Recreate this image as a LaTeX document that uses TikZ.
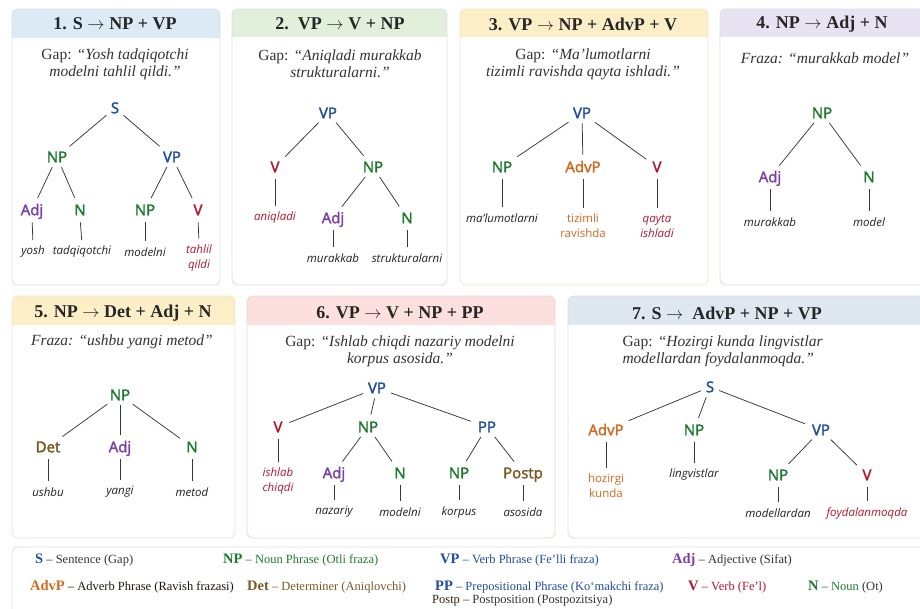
\documentclass[tikz,border=0pt]{standalone}
\usepackage{fontspec}
\setmainfont{Liberation Serif}
\newfontfamily\treefont{Open Sans}
\newfontfamily\catfont[FakeBold=2.2]{Open Sans}
\definecolor{cS}{HTML}{1F4E9C}
\definecolor{cNP}{HTML}{1E7B2E}
\definecolor{cAdj}{HTML}{7B3FA8}
\definecolor{cV}{HTML}{B0182C}
\definecolor{cAdv}{HTML}{D2691E}
\definecolor{cDet}{HTML}{7A5A24}
\definecolor{cWord}{HTML}{222222}
\definecolor{hBlue}{HTML}{DCEAF6}
\definecolor{hGreen}{HTML}{E2EFDA}
\definecolor{hYellow}{HTML}{FCEFC7}
\definecolor{hLav}{HTML}{E7E3F3}
\definecolor{hPink}{HTML}{FBE0DD}
\definecolor{hGrey}{HTML}{DFE8F0}
\definecolor{bGrey}{HTML}{D9DEE4}
\definecolor{bYel}{HTML}{F1E4BE}
\definecolor{bPink}{HTML}{F2D3CF}
\newcommand\lgb{\fontsize{14.5}{15}\selectfont\bfseries}
\newcommand\arr{\ensuremath{\rightarrow}}
\newcommand\drawpanel[7]{%
  \begin{scope}
    \clip[rounded corners=6pt] (#1,#2) rectangle (#3,#4);
    \fill[#6] (#1,#2) rectangle (#3,#5);
  \end{scope}
  \draw[#7, line width=0.8pt, rounded corners=6pt] (#1,#2) rectangle (#3,#4);}
\begin{document}
\begin{tikzpicture}[x=1pt,y=-1pt,
  ttl/.style={font=\fontsize{18}{20}\selectfont\bfseries, text=black!85},
  sent/.style={font=\fontsize{15.5}{17}\selectfont, align=center, text=black!80},
  cat/.style={font=\catfont\fontsize{15}{16}\selectfont, inner sep=2pt, text height=10.5pt, text depth=0pt},
  wrd/.style={font=\treefont\itshape\fontsize{11.5}{15}\selectfont, align=center, inner sep=2pt, text=cWord},
  wup/.style={font=\treefont\fontsize{11.5}{15}\selectfont, align=center, inner sep=2pt},
  edge/.style={draw=black!78, line width=0.75pt},
  br/.style={edge, shorten <=3pt, shorten >=5pt},
  lf/.style={edge, shorten <=5pt, shorten >=4pt},
  leg/.style={anchor=west, font=\fontsize{12.5}{15}\selectfont, inner sep=0pt}]
\fill[white] (0,0) rectangle (920,608);
\useasboundingbox (0,0) rectangle (920,608);

% panels
\drawpanel{12}{9}{220}{285}{38}{hBlue}{bGrey}
\drawpanel{232}{9}{447}{285}{37}{hGreen}{bGrey}
\drawpanel{460}{9}{708}{285}{37}{hYellow}{bYel}
\drawpanel{720}{9}{935}{285}{37}{hLav}{bGrey}
\drawpanel{12}{296}{235}{538}{325}{hYellow}{bYel}
\drawpanel{247}{296}{555}{538}{325}{hPink}{bPink}
\drawpanel{568}{296}{935}{538}{325}{hGrey}{bGrey}
\draw[bGrey, line width=0.8pt, rounded corners=6pt] (12,547) rectangle (935,625);

% ---------- panel 1 ----------
\node[ttl] (t1) at (115,24) {1. S \arr\ NP + VP};
\node[sent] (g1) at (115,64) {Gap: \textit{“Yosh tadqiqotchi}\\\textit{modelni tahlil qildi.”}};
\node[cat, text=cS] (a1s) at (115,108) {S};
\node[cat, text=cNP] (a1np) at (57,157) {NP};
\node[cat, text=cS] (a1vp) at (172,157) {VP};
\node[cat, text=cAdj] (a1adj) at (32,210) {Adj};
\node[cat, text=cNP] (a1n) at (80,210) {N};
\node[cat, text=cNP] (a1np2) at (145,210) {NP};
\node[cat, text=cV] (a1v) at (198,210) {V};
\node[wrd] (w1a) at (33,252) {yosh};
\node[wrd] (w1b) at (82,252) {tadqiqotchi};
\node[wrd] (w1c) at (145,252) {modelni};
\node[wrd, text=cV] (w1d) at (199,258) {tahlil\\qildi};
\draw[br] (a1s) -- (a1np); \draw[br] (a1s) -- (a1vp);
\draw[br] (a1np) -- (a1adj); \draw[br] (a1np) -- (a1n);
\draw[br] (a1vp) -- (a1np2); \draw[br] (a1vp) -- (a1v);
\draw[lf] (a1adj.south) -- (w1a.north); \draw[lf] (a1n.south) -- (w1b.north);
\draw[lf] (a1np2.south) -- (w1c.north); \draw[lf] (a1v.south) -- (w1d.north);

% ---------- panel 2 ----------
\node[ttl] (t2) at (340,24) {2.\ \ VP \arr\ V + NP};
\node[sent] (g2) at (340,64) {Gap: \textit{“Aniqladi murakkab}\\\textit{strukturalarni.”}};
\node[cat, text=cS] (b2vp) at (328,113) {VP};
\node[cat, text=cV] (b2v) at (275,167) {V};
\node[cat, text=cNP] (b2np) at (373,167) {NP};
\node[wrd, text=cV] (w2a) at (275,218) {aniqladi};
\node[cat, text=cAdj] (b2adj) at (333,218) {Adj};
\node[cat, text=cNP] (b2n) at (407,218) {N};
\node[wrd] (w2b) at (333,258) {murakkab};
\node[wrd] (w2c) at (407,258) {strukturalarni};
\draw[br] (b2vp) -- (b2v); \draw[br] (b2vp) -- (b2np);
\draw[br] (b2np) -- (b2adj); \draw[br] (b2np) -- (b2n);
\draw[lf] (b2v.south) -- (w2a.north);
\draw[lf] (b2adj.south) -- (w2b.north); \draw[lf] (b2n.south) -- (w2c.north);

% ---------- panel 3 ----------
\node[ttl] (t3) at (583,24) {3. VP \arr\ NP + AdvP + V};
\node[sent] (g3) at (583,64) {Gap: \textit{“Ma’lumotlarni}\\\textit{tizimli ravishda qayta ishladi.”}};
\node[cat, text=cS] (c3vp) at (582,113) {VP};
\node[cat, text=cNP] (c3np) at (502,167) {NP};
\node[cat, text=cAdv] (c3adv) at (583,167) {AdvP};
\node[cat, text=cV] (c3v) at (657,167) {V};
\node[wrd] (w3a) at (502,218) {ma’lumotlarni};
\node[wup, text=cAdv] (w3b) at (583,226) {tizimli\\ravishda};
\node[wrd, text=cV] (w3c) at (657,226) {qayta\\ishladi};
\draw[br] (c3vp) -- (c3np); \draw[br] (c3vp) -- (c3adv); \draw[br] (c3vp) -- (c3v);
\draw[lf] (c3np.south) -- (w3a.north); \draw[lf] (c3adv.south) -- (w3b.north);
\draw[lf] (c3v.south) -- (w3c.north);

% ---------- panel 4 ----------
\node[ttl] (t4) at (822,24) {4. NP \arr\ Adj + N};
\node[sent] (g4) at (825,58) {\textit{Fraza: “murakkab model”}};
\node[cat, text=cNP] (d4np) at (822,113) {NP};
\node[cat, text=cAdj] (d4adj) at (770,177) {Adj};
\node[cat, text=cNP] (d4n) at (869,177) {N};
\node[wrd] (w4a) at (770,222) {murakkab};
\node[wrd] (w4b) at (869,222) {model};
\draw[br] (d4np) -- (d4adj); \draw[br] (d4np) -- (d4n);
\draw[lf] (d4adj.south) -- (w4a.north); \draw[lf] (d4n.south) -- (w4b.north);

% ---------- panel 5 ----------
\node[ttl] (t5) at (123,313) {5. NP \arr\ Det + Adj + N};
\node[sent] (g5) at (122,342) {\textit{Fraza: “ushbu yangi metod”}};
\node[cat, text=cNP] (e5np) at (120,395) {NP};
\node[cat, text=cDet] (e5det) at (48,447) {Det};
\node[cat, text=cAdj] (e5adj) at (120,447) {Adj};
\node[cat, text=cNP] (e5n) at (192,447) {N};
\node[wrd] (w5a) at (48,492) {ushbu};
\node[wrd] (w5b) at (120,492) {yangi};
\node[wrd] (w5c) at (192,492) {metod};
\draw[br] (e5np) -- (e5det); \draw[br] (e5np) -- (e5adj); \draw[br] (e5np) -- (e5n);
\draw[lf] (e5det.south) -- (w5a.north); \draw[lf] (e5adj.south) -- (w5b.north);
\draw[lf] (e5n.south) -- (w5c.north);

% ---------- panel 6 ----------
\node[ttl] (t6) at (400,313) {6. VP \arr\ V + NP + PP};
\node[sent] (g6) at (400,351) {Gap: \textit{“Ishlab chiqdi nazariy modelni}\\\textit{korpus asosida.”}};
\node[cat, text=cS] (f6vp) at (377,388) {VP};
\node[cat, text=cV] (f6v) at (278,427) {V};
\node[cat, text=cNP] (f6np) at (368,427) {NP};
\node[cat, text=cS] (f6pp) at (487,427) {PP};
\node[wrd, text=cV] (w6a) at (278,481) {ishlab\\chiqdi};
\node[cat, text=cAdj] (f6adj) at (334,473) {Adj};
\node[cat, text=cNP] (f6n) at (400,473) {N};
\node[cat, text=cNP] (f6np2) at (459,473) {NP};
\node[cat, text=cDet] (f6post) at (523,473) {Postp};
\node[wrd] (w6b) at (334,512) {nazariy};
\node[wrd] (w6c) at (400,512) {modelni};
\node[wrd] (w6d) at (459,512) {korpus};
\node[wrd] (w6e) at (523,512) {asosida};
\draw[br] (f6vp) -- (f6v); \draw[br] (f6vp) -- (f6np); \draw[br] (f6vp) -- (f6pp);
\draw[br] (f6np) -- (f6adj); \draw[br] (f6np) -- (f6n);
\draw[br] (f6pp) -- (f6np2); \draw[br] (f6pp) -- (f6post);
\draw[lf] (f6v.south) -- (w6a.north);
\draw[lf] (f6adj.south) -- (w6b.north); \draw[lf] (f6n.south) -- (w6c.north);
\draw[lf] (f6np2.south) -- (w6d.north); \draw[lf] (f6post.south) -- (w6e.north);

% ---------- panel 7 ----------
\node[ttl] (t7) at (727,313) {7. S \arr\ \ AdvP + NP + VP};
\node[sent, anchor=west, align=left] (g7) at (619,351) {Gap: \textit{“Hozirgi kunda lingvistlar}\\\textit{modellardan foydalanmoqda.”}};
\node[cat, text=cS] (h7s) at (710,387) {S};
\node[cat, text=cAdv] (h7adv) at (606,430) {AdvP};
\node[cat, text=cNP] (h7np) at (694,430) {NP};
\node[cat, text=cS] (h7vp) at (821,430) {VP};
\node[wup, text=cAdv] (w7a) at (606,486) {hozirgi\\kunda};
\node[wrd] (w7b) at (694,475) {lingvistlar};
\node[cat, text=cNP] (h7np2) at (778,475) {NP};
\node[cat, text=cV] (h7v) at (867,475) {V};
\node[wrd] (w7c) at (778,513) {modellardan};
\node[wrd, text=cV] (w7d) at (867,513) {foydalanmoqda};
\draw[br] (h7s) -- (h7adv); \draw[br] (h7s) -- (h7np); \draw[br] (h7s) -- (h7vp);
\draw[br] (h7vp) -- (h7np2); \draw[br] (h7vp) -- (h7v);
\draw[lf] (h7adv.south) -- (w7a.north); \draw[lf] (h7np.south) -- (w7b.north);
\draw[lf] (h7np2.south) -- (w7c.north); \draw[lf] (h7v.south) -- (w7d.north);

% ---------- legend ----------
\node[leg, text=black!80] (l1) at (35,560) {{\lgb\textcolor{cS}{S}} – Sentence (Gap)};
\node[leg, text=cNP] (l2) at (223,560) {{\lgb NP} – Noun Phrase (Otli fraza)};
\node[leg, text=cS] (l3) at (440,560) {{\lgb VP} – Verb Phrase (Fe’lli fraza)};
\node[leg, text=black!80] (l4) at (672,560) {{\lgb\textcolor{cAdj}{Adj}} – Adjective (Sifat)};
\node[leg, text=black!75!cDet] (l5) at (30,587) {{\lgb\textcolor{cAdv}{AdvP}} – Adverb Phrase (Ravish frazasi)};
\node[leg, text=cDet] (l6) at (247,587) {{\lgb Det} – Determiner (Aniqlovchi)};
\node[leg, text=cS] (l7) at (435,587) {{\lgb PP} – Prepositional Phrase (Ko‘makchi fraza)};
\node[leg, text=cV] (l8) at (688,587) {{\lgb V} – Verb (Fe’l)};
\node[leg, text=cNP] (l9) at (808,587) {{\lgb N} – Noun \textcolor{black!80}{(Ot)}};
\node[leg, text=black!80] (l10) at (432,601) {\textcolor{black!60!cDet}{Postp} – Postposition (Postpozitsiya)};
\end{tikzpicture}
\end{document}
